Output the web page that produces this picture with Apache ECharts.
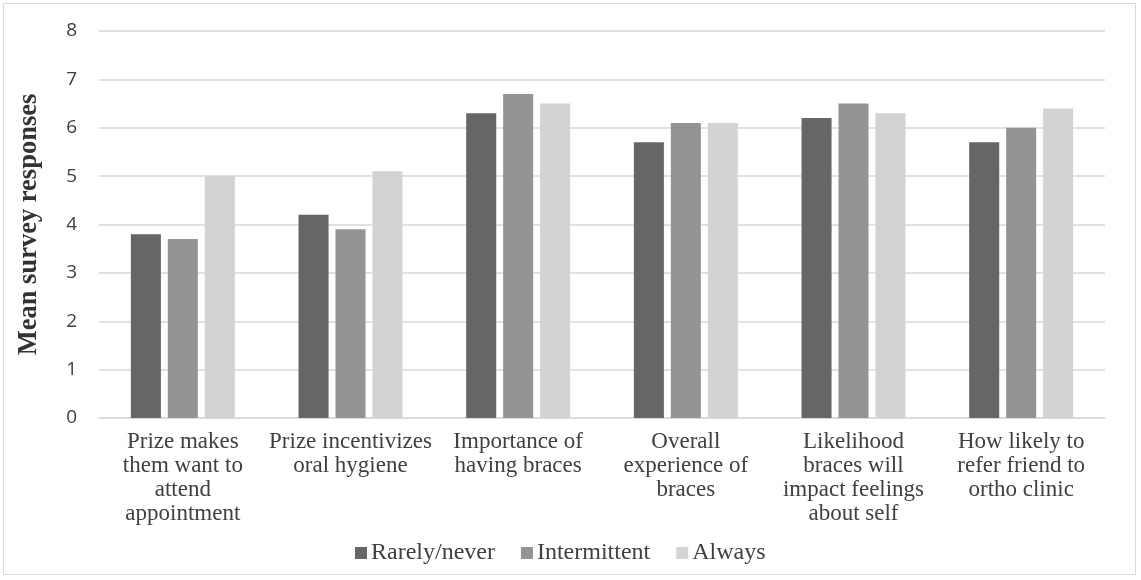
<!DOCTYPE html>
<html>
<head>
<meta charset="utf-8">
<script src="https://cdn.jsdelivr.net/npm/echarts@6/dist/echarts.min.js"></script>
<style>
  html, body { margin: 0; padding: 0; background: #fff; }
  #frame { position: absolute; left: 3px; top: 3px; width: 1133px; height: 572px; border: 1px solid #d9d9d9; box-sizing: border-box; }
  #chart { position: absolute; left: 0; top: 0; width: 1141px; height: 580px; }
</style>
</head>
<body>
<div id="frame"></div>
<div id="chart"></div>
<script>
// Survey questions (x-axis categories)
const categories = [
  'Prize makes\nthem want to\nattend\nappointment',
  'Prize incentivizes\noral hygiene',
  'Importance of\nhaving braces',
  'Overall\nexperience of\nbraces',
  'Likelihood\nbraces will\nimpact feelings\nabout self',
  'How likely to\nrefer friend to\northo clinic'
];

// Mean responses by attendance group
const rarelyNever = [3.8, 4.2, 6.3, 5.7, 6.2, 5.7];
const intermittent = [3.7, 3.9, 6.7, 6.1, 6.5, 6.0];
const always = [5.0, 5.1, 6.5, 6.1, 6.3, 6.4];

const seriesNames = ['Rarely/never', 'Intermittent', 'Always'];
const seriesColors = ['#666666', '#949494', '#d3d3d3'];

const serif = '"Liberation Serif", "Times New Roman", serif';

const chart = echarts.init(document.getElementById('chart'), null, { renderer: 'canvas' });

const mkSeries = (name, data, color) => ({
  name,
  type: 'bar',
  data,
  barGap: '23%',
  barCategoryGap: '38%',
  itemStyle: { color },
  animation: false
});

chart.setOption({
  animation: false,
  grid: { left: 99, right: 36, top: 31, bottom: 162, containLabel: false },
  legend: {
    top: 536,
    left: 350,
    itemWidth: 12,
    itemHeight: 12,
    itemGap: 26,
    icon: 'rect',
    textStyle: { fontFamily: serif, fontSize: 24, color: '#404040', padding: [0, 0, 0, -1] },
    data: seriesNames
  },
  xAxis: {
    type: 'category',
    data: categories,
    axisLine: { lineStyle: { color: '#d9d9d9', width: 1.5 } },
    axisTick: { show: false },
    axisLabel: {
      interval: 0,
      margin: 12,
      fontFamily: serif,
      fontSize: 23,
      lineHeight: 24,
      color: '#404040'
    }
  },
  yAxis: {
    type: 'value',
    min: 0,
    max: 8,
    interval: 1,
    name: 'Mean survey responses',
    nameLocation: 'middle',
    nameGap: 56,
    nameTextStyle: { fontFamily: serif, fontSize: 26.5, fontWeight: 'bold', color: '#333', padding: [0, 0, 0, 0] },
    axisLine: { show: false },
    axisTick: { show: false },
    splitLine: { lineStyle: { color: '#d9d9d9', width: 1.5 } },
    axisLabel: { fontFamily: '"Open Sans", "Liberation Sans", sans-serif', fontSize: 19, color: '#404040', margin: 22 }
  },
  series: [
    mkSeries(seriesNames[0], rarelyNever, seriesColors[0]),
    mkSeries(seriesNames[1], intermittent, seriesColors[1]),
    mkSeries(seriesNames[2], always, seriesColors[2])
  ]
});
</script>
</body>
</html>
